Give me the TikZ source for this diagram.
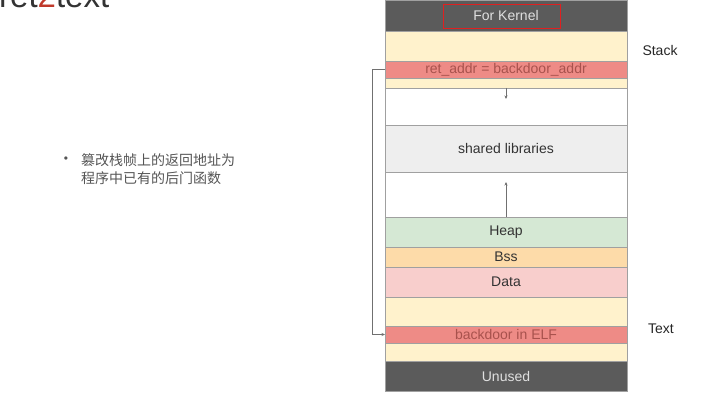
\documentclass[tikz,border=0pt]{standalone}
\usepackage{fontspec}
\setmainfont{Liberation Sans}
\newfontfamily\cjk{Noto Sans CJK SC}
\usetikzlibrary{arrows.meta}
\definecolor{segline}{HTML}{A0A0A0}
\definecolor{darkseg}{HTML}{5B5B5B}
\definecolor{yel}{HTML}{FFF2CC}
\definecolor{redband}{HTML}{EE8B86}
\definecolor{redtext}{HTML}{A8524D}
\definecolor{libgray}{HTML}{EEEEEE}
\definecolor{heapg}{HTML}{D5E8D4}
\definecolor{bsso}{HTML}{FDDBA9}
\definecolor{datap}{HTML}{F8CECC}
\definecolor{arrowc}{HTML}{707070}
\definecolor{bodytext}{HTML}{555555}
\definecolor{markred}{HTML}{E02020}
\begin{document}
\begin{tikzpicture}[x=1pt,y=-1pt,
  seg/.style={draw=segline, line width=0.7pt, minimum width=242pt, inner sep=0pt,
    outer sep=0pt, anchor=north west, font=\fontsize{14}{16}\selectfont, text=black!80},
  darkbox/.style={seg, fill=darkseg, text=white!88!black},
  redbox/.style={seg, fill=redband, text=redtext},
  arr/.style={draw=arrowc, line width=0.6pt, -{Stealth[length=3.5pt,width=3pt]}},
  side/.style={font=\fontsize{14}{16}\selectfont, text=black!85},
]
\useasboundingbox (0,0) rectangle (715,401);
% title (cut at top, as in the reference)
\node[anchor=base west, inner sep=0pt, font=\fontsize{33}{33}\selectfont, text=black!80] (title) at (-1,7.5) {ret{\color[HTML]{C0392B}2}text};
% memory layout
\node[darkbox, minimum height=31pt] (kernel) at (385,0) {For Kernel};
\node[seg, fill=yel, minimum height=30pt] (stackA) at (385,31) {};
\node[redbox, minimum height=17pt] (retaddr) at (385,61) {ret\_addr = backdoor\_addr};
\node[seg, fill=yel, minimum height=10pt] (stackB) at (385,78) {};
\node[seg, fill=white, minimum height=37pt] (gapA) at (385,88) {};
\node[seg, fill=libgray, minimum height=47pt] (shlib) at (385,125) {shared libraries};
\node[seg, fill=white, minimum height=45pt] (gapB) at (385,172) {};
\node[seg, fill=heapg, minimum height=30pt] (heap) at (385,217) {Heap};
\node[seg, fill=bsso, minimum height=20pt] (bss) at (385,247) {Bss};
\node[seg, fill=datap, minimum height=30pt] (data) at (385,267) {Data};
\node[seg, fill=yel, minimum height=29pt] (textA) at (385,297) {};
\node[redbox, minimum height=17pt] (backdoor) at (385,326) {backdoor in ELF};
\node[seg, fill=yel, minimum height=18pt] (textB) at (385,343) {};
\node[darkbox, minimum height=30pt] (unused) at (385,361) {Unused};
% red highlight around For Kernel
\node[draw=markred, line width=1.5pt, rectangle, minimum width=117pt, minimum height=24pt, inner sep=0pt, fill=none] (kmark) at (502,16.5) {};
% growth arrows
\coordinate (downend) at (506,99);
\coordinate (upend) at (506,182);
\draw[arr] (gapA.north) -- (downend);
\draw[arr] (heap.north) -- (upend);
% overwrite connector
\draw[arr] (retaddr.west) -- ++(-13,0) |- (backdoor.west);
% side labels
\node[side] (stacklbl) at (660,50) {Stack};
\node[side] (textlbl) at (661,329) {Text};
% bullet text
\node[text=bodytext, font=\fontsize{12}{12}\selectfont] (bullet) at (66,160) {•};
\node[anchor=north west, align=left, inner sep=0pt, text=bodytext, font=\cjk\fontsize{14}{18}\selectfont] (desc) at (81,153) {篡改栈帧上的返回地址为\\程序中已有的后门函数};
\end{tikzpicture}
\end{document}
